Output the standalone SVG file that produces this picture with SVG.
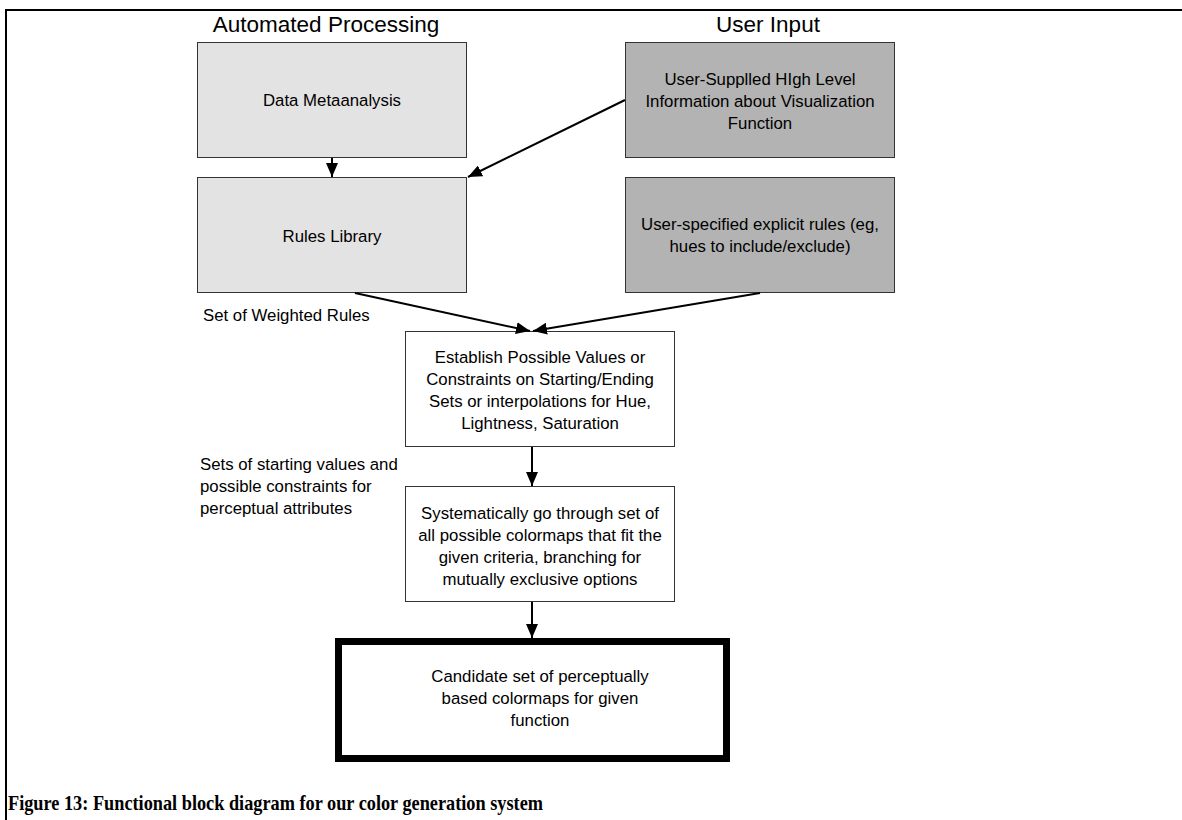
<svg xmlns="http://www.w3.org/2000/svg" width="1182" height="820" viewBox="0 0 1182 820">
<defs>
<marker id="ah" viewBox="0 0 14 12" refX="14" refY="6" markerWidth="14" markerHeight="12" markerUnits="userSpaceOnUse" orient="auto">
<path d="M0,0 L14,6 L0,12 Z" fill="#000"/>
</marker>
<style>
.t{font-family:"Liberation Sans",Arial,sans-serif;font-size:16.8px;fill:#000;text-anchor:middle}
.l{font-family:"Liberation Sans",Arial,sans-serif;font-size:16.8px;fill:#000}
.h{font-family:"Liberation Sans",Arial,sans-serif;font-size:22.5px;fill:#000;text-anchor:middle}
.light{fill:#e3e3e3;stroke:#333;stroke-width:1}
.dark{fill:#b3b3b3;stroke:#333;stroke-width:1}
.white{fill:#fff;stroke:#333;stroke-width:1}
.c{stroke:#000;stroke-width:2;fill:none;marker-end:url(#ah)}
</style>
</defs>
<rect width="1182" height="820" fill="#fff"/>
<path d="M6,820 V10 H1182" fill="none" stroke="#000" stroke-width="2"/>
<text class="h" x="326" y="32">Automated Processing</text>
<text class="h" x="768" y="32">User Input</text>
<g id="data-metaanalysis">
<rect class="light" x="197.5" y="42.5" width="269" height="115"/>
<text class="t" x="332" y="106">Data Metaanalysis</text>
</g>
<g id="rules-library">
<rect class="light" x="197.5" y="177.5" width="269" height="115"/>
<text class="t" x="332" y="242">Rules Library</text>
</g>
<g id="user-supplied">
<rect class="dark" x="625.5" y="42.5" width="269" height="115"/>
<text class="t" x="760" y="85">User-Supplled HIgh Level</text>
<text class="t" x="760" y="107">Information about Visualization</text>
<text class="t" x="760" y="129">Function</text>
</g>
<g id="user-rules">
<rect class="dark" x="625.5" y="177.5" width="269" height="115"/>
<text class="t" x="760" y="230">User-specified explicit rules (eg,</text>
<text class="t" x="760" y="252">hues to include/exclude)</text>
</g>
<g id="establish">
<rect class="white" x="405.5" y="331.5" width="269" height="115"/>
<text class="t" x="540" y="363">Establish Possible Values or</text>
<text class="t" x="540" y="385">Constraints on Starting/Ending</text>
<text class="t" x="540" y="407">Sets or interpolations for Hue,</text>
<text class="t" x="540" y="429">Lightness, Saturation</text>
</g>
<g id="systematic">
<rect class="white" x="405.5" y="486.5" width="269" height="115"/>
<text class="t" x="540" y="519">Systematically go through set of</text>
<text class="t" x="540" y="541">all possible colormaps that fit the</text>
<text class="t" x="540" y="563">given criteria, branching for</text>
<text class="t" x="540" y="585">mutually exclusive options</text>
</g>
<g id="candidate">
<rect x="338.5" y="641.5" width="388" height="117" fill="#fff" stroke="#000" stroke-width="7"/>
<text class="t" x="540" y="682">Candidate set of perceptually</text>
<text class="t" x="540" y="704">based colormaps for given</text>
<text class="t" x="540" y="726">function</text>
</g>
<g id="labels">
<text class="l" x="203" y="321">Set of Weighted Rules</text>
<text class="l" x="200" y="470">Sets of starting values and</text>
<text class="l" x="200" y="492">possible constraints for</text>
<text class="l" x="200" y="514">perceptual attributes</text>
</g>
<g id="connectors">
<line class="c" x1="332" y1="158" x2="332" y2="177"/>
<line class="c" x1="625" y1="100" x2="468" y2="177"/>
<line class="c" x1="355" y1="293" x2="530" y2="331"/>
<line class="c" x1="760" y1="293" x2="533" y2="331"/>
<line class="c" x1="532" y1="447" x2="532" y2="486"/>
<line class="c" x1="532" y1="602" x2="532" y2="638"/>
</g>
<text x="8" y="810" textLength="535" lengthAdjust="spacingAndGlyphs" font-family="'Liberation Serif','Times New Roman',serif" font-weight="bold" font-size="22" fill="#000">Figure 13: Functional block diagram for our color generation system</text>
</svg>
